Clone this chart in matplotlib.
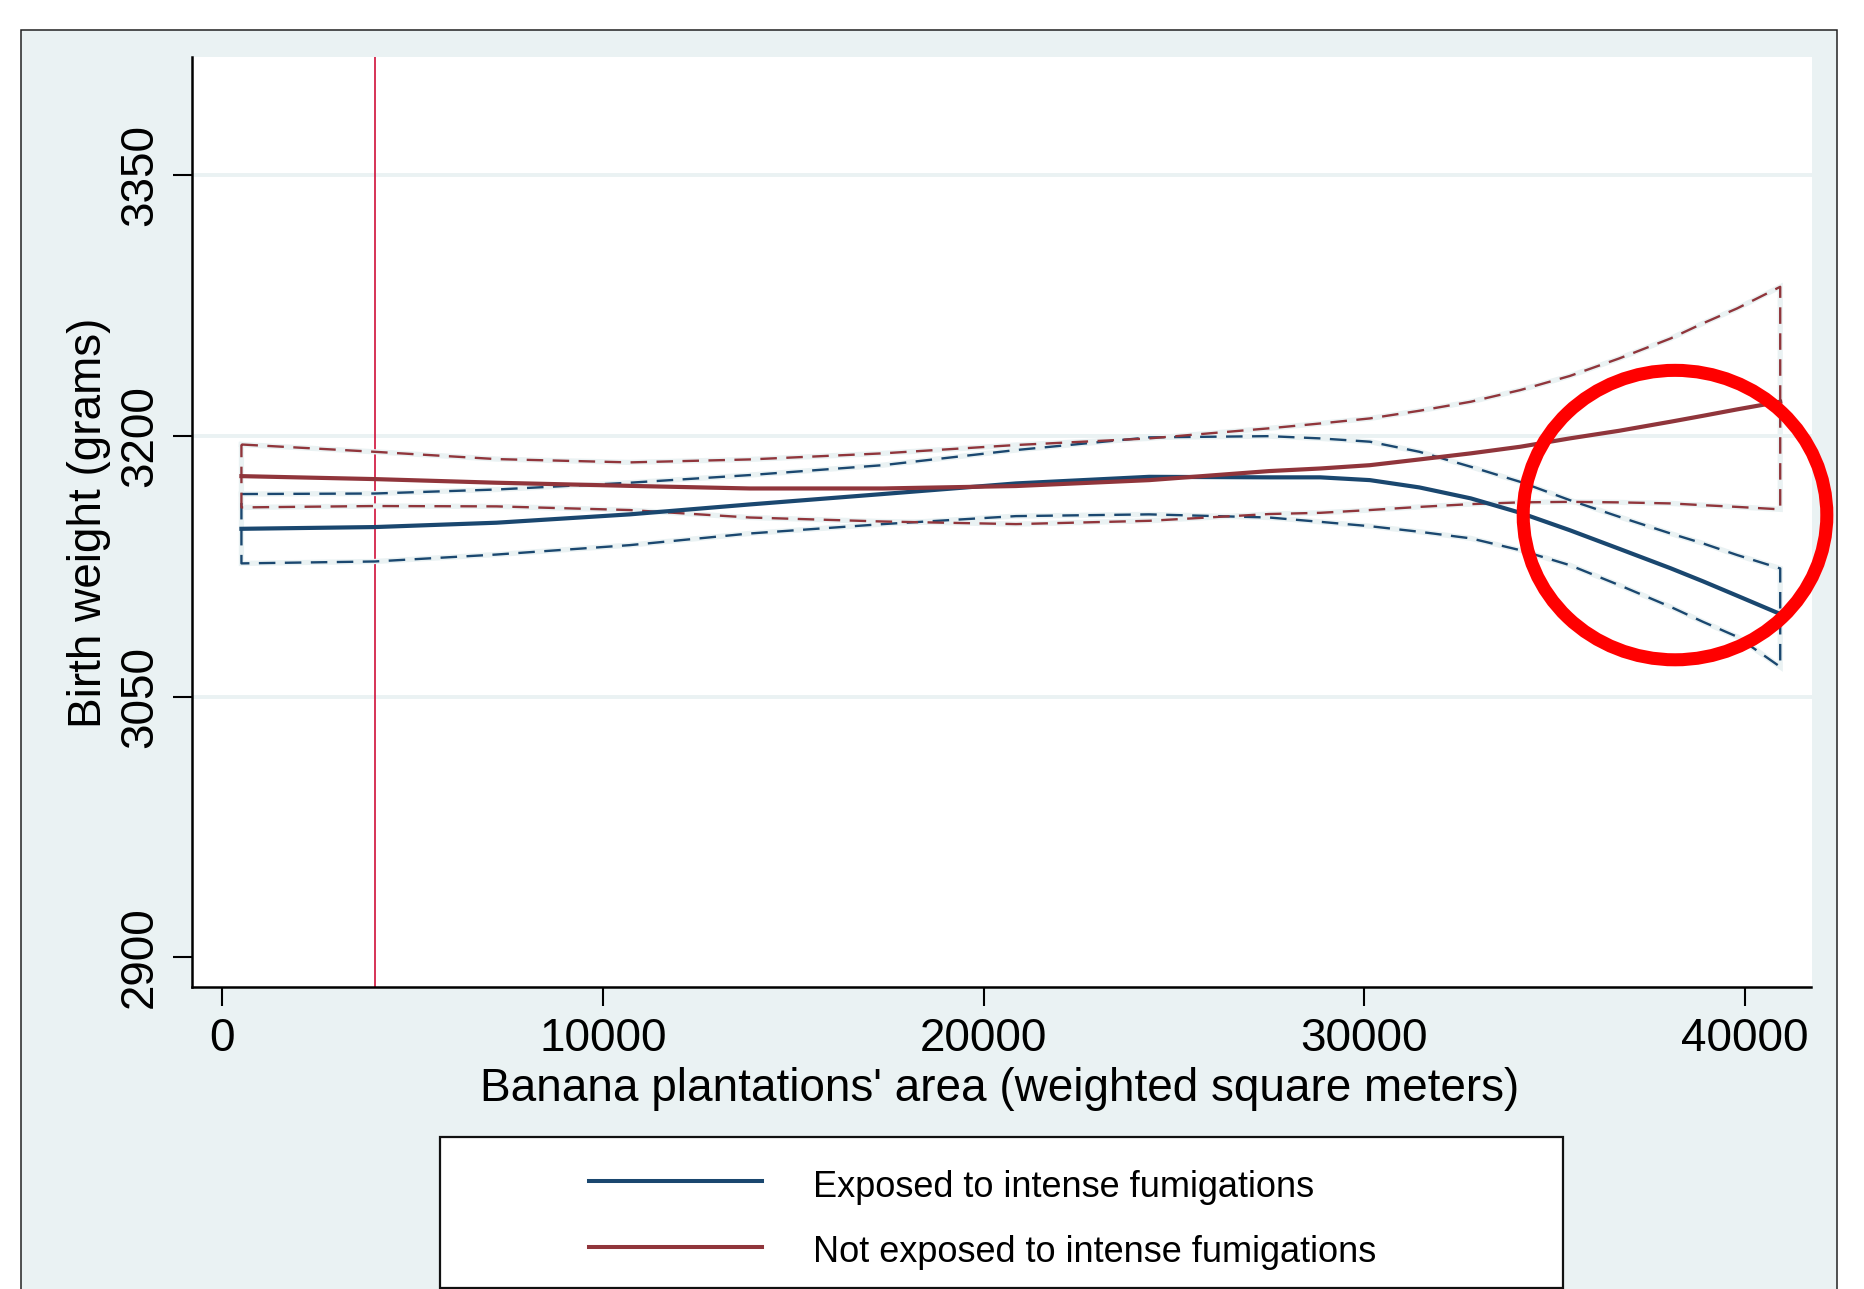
import matplotlib
matplotlib.use("Agg")
import matplotlib.pyplot as plt
from matplotlib.patches import Rectangle, Ellipse
from matplotlib.lines import Line2D

# ---------------- data ----------------
area = [500, 4000, 7200, 10700, 13850, 17350, 20850, 24350, 27500, 28850,
        30150, 31450, 32800, 34100, 35400, 36700, 38050, 38900, 39800, 40930]

exp_fit = [3146.5, 3147.5, 3150.0, 3154.8, 3160.5, 3166.5, 3172.6, 3176.4,
           3176.1, 3176.1, 3174.5, 3170.3, 3164.0, 3155.7, 3145.7, 3135.0,
           3123.8, 3116.3, 3108.0, 3097.5]
exp_hi = [3166.5, 3166.8, 3169.1, 3173.0, 3177.4, 3183.1, 3191.8, 3199.1,
          3199.8, 3198.5, 3196.6, 3190.8, 3182.2, 3173.5, 3163.0, 3153.4,
          3143.8, 3138.1, 3131.4, 3123.7]
exp_lo = [3126.6, 3127.7, 3131.7, 3137.1, 3143.8, 3149.2, 3153.8, 3154.8,
          3153.0, 3150.5, 3148.0, 3144.8, 3141.0, 3134.2, 3125.6, 3114.1,
          3101.6, 3093.0, 3084.4, 3067.1]

nexp_fit = [3176.8, 3175.1, 3173.0, 3171.2, 3169.7, 3169.7, 3171.1, 3174.5,
            3179.7, 3181.2, 3183.1, 3186.4, 3189.9, 3193.7, 3198.5, 3202.9,
            3208.1, 3211.5, 3215.2, 3219.6]
nexp_hi = [3195.0, 3190.8, 3186.6, 3184.7, 3186.4, 3189.9, 3194.7, 3198.5,
           3204.3, 3207.1, 3210.0, 3214.4, 3219.6, 3226.3, 3234.4, 3244.5,
           3256.0, 3264.7, 3273.3, 3285.7]
nexp_lo = [3158.8, 3159.6, 3159.4, 3157.3, 3153.0, 3150.7, 3149.2, 3151.1,
           3155.0, 3155.7, 3157.3, 3159.1, 3160.7, 3161.7, 3162.0, 3161.7,
           3161.1, 3160.1, 3159.1, 3157.7]

series_labels = ["Exposed to intense fumigations",
                 "Not exposed to intense fumigations"]
x_ticks = [0, 10000, 20000, 30000, 40000]
y_ticks = [2900, 3050, 3200, 3350]
x_title = "Banana plantations' area (weighted square meters)"
y_title = "Birth weight (grams)"
ref_line_x = 4000
highlight_center = (38166, 3154.4)
highlight_size = (7977, 166.5)

# ---------------- style ----------------
W, H = 1865, 1289
BLUE = "#1a476f"
RED = "#90353b"
BG = "#eaf2f3"
VLINE = "#d0103a"
plt.rcParams["font.family"] = ["Liberation Sans", "DejaVu Sans"]

fig = plt.figure(figsize=(W / 100, H / 100), dpi=100)
fig.patch.set_facecolor("white")


def fx(px):
    return px / W


def fy(py):
    return 1 - py / H


# outer graph region
fig.add_artist(Rectangle((fx(21.5), fy(1300)), fx(1837.5) - fx(21.5),
                         fy(29.5) - fy(1300), transform=fig.transFigure,
                         facecolor=BG, edgecolor="#222222", lw=1.1, zorder=0))

ax_l, ax_r, ax_t, ax_b = 192.4, 1811.5, 57.0, 986.7
ax = fig.add_axes([fx(ax_l), fy(ax_b), fx(ax_r) - fx(ax_l), fy(ax_t) - fy(ax_b)])
ax.set_facecolor("white")
ax.set_xlim(-788, 41752)
ax.set_ylim(2883.1, 3417.9)

for s in ["top", "right"]:
    ax.spines[s].set_visible(False)
for s in ["left", "bottom"]:
    ax.spines[s].set_linewidth(1.8)
    ax.spines[s].set_color("black")

ax.set_xticks(x_ticks)
ax.set_xticklabels([str(v) for v in x_ticks])
ax.set_yticks(y_ticks)
ax.set_yticklabels([str(v) for v in y_ticks])
ax.tick_params(axis="both", length=14, width=1.5, color="black",
               labelsize=33, pad=8)
for lab in ax.get_yticklabels():
    lab.set_rotation(90)
    lab.set_va("center")

# gridlines (interior ticks only)
for yv in y_ticks[1:]:
    ax.axhline(yv, color=BG, lw=2.8, zorder=0.5)

ax.axvline(ref_line_x, color=VLINE, lw=1.2, zorder=1)


def ci_outline(lo, hi):
    xs = list(area) + list(area[::-1]) + [area[0]]
    ys = list(hi) + list(lo[::-1]) + [hi[0]]
    return xs, ys


for lo, hi, col in [(exp_lo, exp_hi, BLUE), (nexp_lo, nexp_hi, RED)]:
    xs, ys = ci_outline(lo, hi)
    ax.plot(xs, ys, color=BG, lw=3.8, solid_joinstyle="miter", zorder=2)
    ax.plot(xs, ys, color=col, lw=1.7, linestyle=(0, (7, 4)), zorder=2.1)

ax.plot(area, exp_fit, color=BLUE, lw=3.0, zorder=3, solid_joinstyle="round")
ax.plot(area, nexp_fit, color=RED, lw=3.0, zorder=3.1, solid_joinstyle="round")

ax.add_patch(Ellipse(highlight_center, highlight_size[0], highlight_size[1],
                     fill=False, edgecolor="#ff0000", lw=9.4, clip_on=False,
                     zorder=10))

ax.set_xlabel(x_title, fontsize=33, va="center")
ax.xaxis.set_label_coords(0.4988, (ax_b - 1089) / (ax_b - ax_t))
ax.set_ylabel(y_title, fontsize=33, va="center")
ax.yaxis.set_label_coords((89 - ax_l) / (ax_r - ax_l), 0.4988)

# legend box
fig.add_artist(Rectangle((fx(440), fy(1287.5)), fx(1563) - fx(440),
                         fy(1137) - fy(1287.5), transform=fig.transFigure,
                         facecolor="white", edgecolor="#111111", lw=1.6,
                         zorder=5))
for i, (lab, col) in enumerate(zip(series_labels, [BLUE, RED])):
    yl = 1181 + i * 65.7
    fig.add_artist(Line2D([fx(589), fx(762)], [fy(yl), fy(yl)],
                          transform=fig.transFigure, color=col, lw=2.9,
                          zorder=6))
    fig.text(fx(813), fy(1196.7 + i * 65.7), lab, fontsize=26,
             ha="left", va="baseline", zorder=6)

fig.savefig("out.png", dpi=100)
